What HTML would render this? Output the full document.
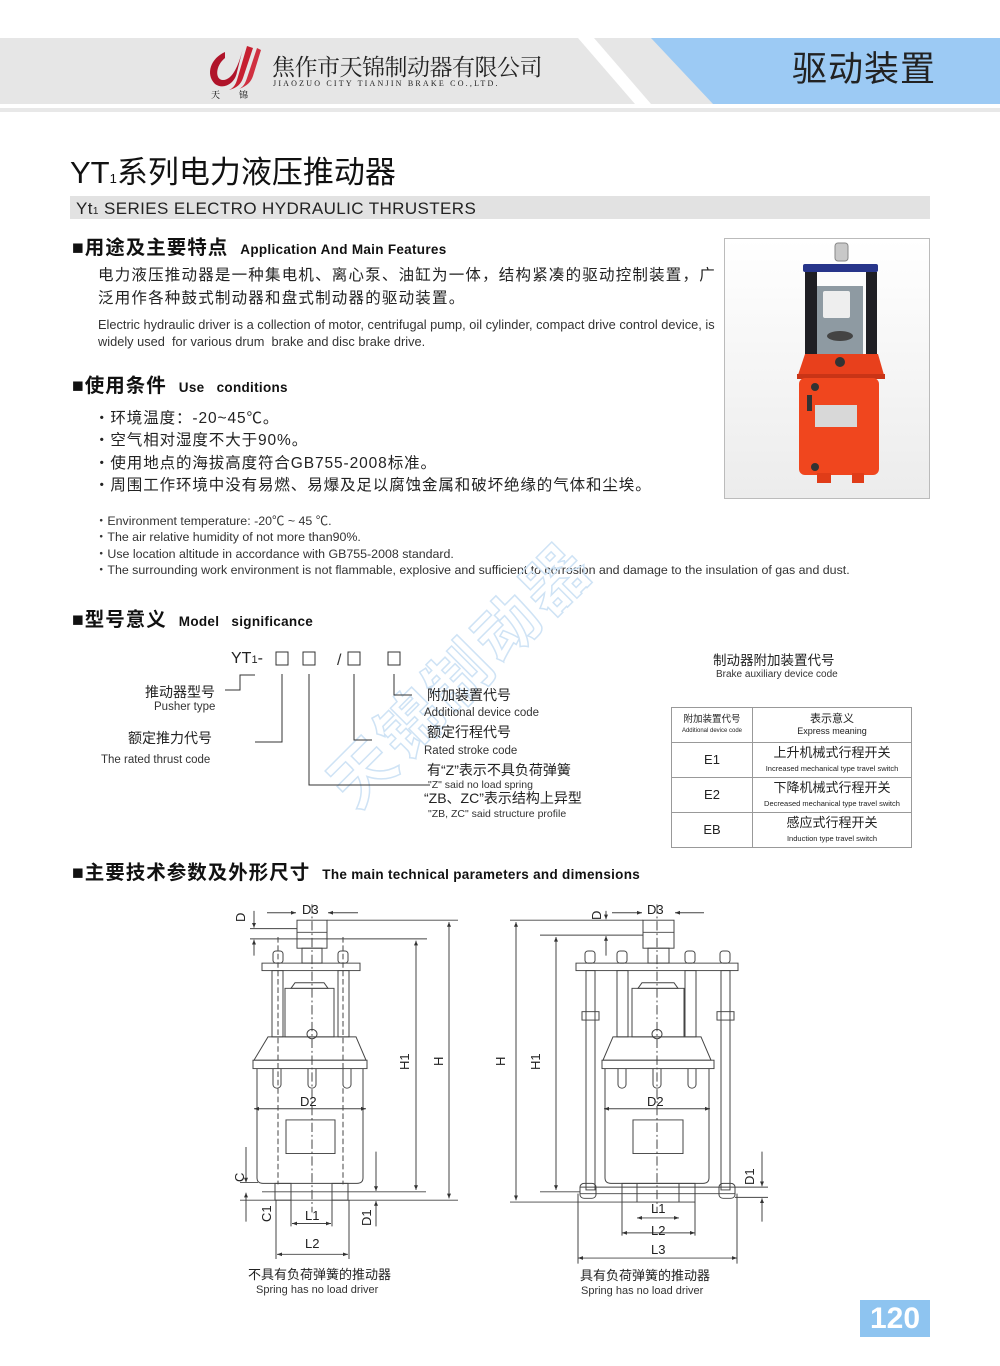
<!DOCTYPE html>
<html><head><meta charset="utf-8">
<style>
*{margin:0;padding:0;box-sizing:border-box}
body{width:1000px;height:1366px;position:relative;background:#fff;overflow:hidden;font-family:"Liberation Sans","Noto Sans CJK SC",sans-serif;color:#222}
.a{position:absolute;white-space:nowrap;line-height:1.15}
.h{font-size:19.5px;font-weight:bold;color:#111;letter-spacing:1px}
.h small{font-size:13.5px;font-weight:bold;margin-left:12px;letter-spacing:0.3px}
table{border-collapse:collapse}
td{border:1px solid #999;text-align:center;vertical-align:middle;line-height:1.1}
</style></head><body>

<!-- header -->
<div class="a" style="left:0;top:38px;width:1000px;height:66px;background:#e6e6e6"></div>
<svg class="a" style="left:0;top:30px" width="1000" height="90">
<polygon points="578,8 594,8 651,74 635,74" fill="#fff"/>
<polygon points="651,8 1000,8 1000,74 713,74" fill="#9ccaf4"/>
<rect x="0" y="78" width="1000" height="4" fill="#e8e8e8"/>
</svg>
<svg class="a" style="left:203px;top:44px" width="62" height="56">
<path d="M22 8 C8 14 2 30 12 40 C20 46 32 40 34 28 L40 4 C36 20 30 36 20 36 C12 36 12 22 22 14 Z" fill="#b0142a"/>
<path d="M44 2 L34 36 C32 42 30 44 26 46 C34 44 38 40 40 34 L50 4 Z" fill="#c62030"/>
<path d="M54 4 L44 34 C42 40 40 43 36 45 C44 42 48 38 50 32 L58 6 Z" fill="#d03040"/>
<text x="8" y="54" font-size="9" font-family="Noto Serif CJK SC,serif">天</text>
<text x="36" y="54" font-size="9" font-family="Noto Serif CJK SC,serif">锦</text>
</svg>
<div class="a" style="left:272px;top:54px;font-size:23px;line-height:24px;font-family:'Noto Serif CJK SC',serif;color:#222;letter-spacing:-0.5px">焦作市天锦制动器有限公司</div>
<div class="a" style="left:273px;top:79px;font-size:8px;line-height:9px;font-family:'Liberation Serif',serif;letter-spacing:2.2px;color:#222">JIAOZUO CITY TIANJIN BRAKE CO.,LTD.</div>
<div class="a" style="left:792px;top:50px;font-size:35px;color:#222;letter-spacing:1px">驱动装置</div>

<!-- title -->
<div class="a" style="left:70px;top:155px;font-size:31px;color:#111">YT<span style="font-size:13px">1</span>系列电力液压推动器</div>
<div class="a" style="left:70px;top:196px;width:860px;height:23px;background:#e2e2e2"></div>
<div class="a" style="left:76px;top:199px;font-size:17px;color:#222;letter-spacing:0.4px">Yt<span style="font-size:10px">1</span> SERIES ELECTRO HYDRAULIC THRUSTERS</div>

<!-- section 1 -->
<div class="a h" style="left:72px;top:237px">■用途及主要特点<small>Application And Main Features</small></div>
<div class="a" style="left:98px;top:267px;font-size:15.5px;letter-spacing:1.2px;color:#222">电力液压推动器是一种集电机、离心泵、油缸为一体，结构紧凑的驱动控制装置，广</div>
<div class="a" style="left:98px;top:290px;font-size:15.5px;letter-spacing:1.2px;color:#222">泛用作各种鼓式制动器和盘式制动器的驱动装置。</div>
<div class="a" style="left:98px;top:318px;font-size:12.8px;color:#333">Electric hydraulic driver is a collection of motor, centrifugal pump, oil cylinder, compact drive control device, is</div>
<div class="a" style="left:98px;top:335px;font-size:12.8px;color:#333">widely used&nbsp; for various drum&nbsp; brake and disc brake drive.</div>

<!-- photo -->
<div class="a" style="left:724px;top:238px;width:206px;height:261px;border:1px solid #bbb;background:linear-gradient(#fff,#ececec)"></div>
<svg class="a" style="left:724px;top:238px" width="206" height="261">
<g transform="translate(-724,-238)">
<rect x="835" y="243" width="13" height="18" rx="3" fill="#c8c8c8" stroke="#888"/>
<rect x="803" y="264" width="75" height="8" rx="2" fill="#27358a"/>
<rect x="805" y="272" width="12" height="82" fill="#1f1f24"/>
<rect x="866" y="272" width="11" height="82" fill="#1f1f24"/>
<rect x="817" y="286" width="46" height="68" fill="#8e9aa2"/>
<rect x="823" y="291" width="27" height="27" rx="2" fill="#eee"/>
<ellipse cx="840" cy="336" rx="13" ry="5" fill="#444"/>
<polygon points="805,354 878,354 884,375 798,375" fill="#e8401c"/>
<circle cx="840" cy="362" r="5" fill="#333"/>
<rect x="797" y="374" width="88" height="5" fill="#c93416"/>
<rect x="799" y="378" width="80" height="97" rx="6" fill="#f0461e"/>
<rect x="815" y="405" width="42" height="22" fill="#d8d8d8"/>
<circle cx="815" cy="387" r="4" fill="#333"/>
<circle cx="815" cy="467" r="4" fill="#333"/>
<rect x="807" y="395" width="5" height="16" fill="#333"/>
<rect x="817" y="473" width="14" height="10" fill="#e03c18"/>
<rect x="852" y="473" width="12" height="10" fill="#e03c18"/>
</g></svg>

<!-- section 2 -->
<div class="a h" style="left:72px;top:375px">■使用条件<small>Use&nbsp;&nbsp; conditions</small></div>
<div class="a" style="left:94px;top:408px;font-size:15.5px;letter-spacing:0.9px;line-height:22.3px;color:#222">・环境温度：-20~45℃。<br>・空气相对湿度不大于90%。<br>・使用地点的海拔高度符合GB755-2008标准。<br>・周围工作环境中没有易燃、易爆及足以腐蚀金属和破坏绝缘的气体和尘埃。</div>
<div class="a" style="left:95px;top:513px;font-size:12.4px;line-height:16.4px;color:#333">・Environment temperature: -20℃ ~ 45 ℃.<br>・The air relative humidity of not more than90%.<br>・Use location altitude in accordance with GB755-2008 standard.<br>・The surrounding work environment is not flammable, explosive and sufficient to corrosion and damage to the insulation of gas and dust.</div>

<!-- watermark -->
<div class="a" style="left:315px;top:770px;font-size:64px;font-weight:bold;color:transparent;-webkit-text-stroke:1.5px #cfe3f5;transform:rotate(-45deg);transform-origin:0 0;letter-spacing:4px">天锦制动器</div>

<!-- section 3 -->
<div class="a h" style="left:72px;top:609px">■型号意义<small>Model&nbsp;&nbsp; significance</small></div>
<div class="a" style="left:231px;top:650px;font-size:16px">YT<span style="font-size:11px">1</span>-</div>
<svg class="a" style="left:90px;top:640px" width="560" height="190">
<g fill="none" stroke="#333" stroke-width="1">
<rect x="186" y="12" width="12" height="13"/><rect x="213" y="12" width="12" height="13"/>
<rect x="258" y="12" width="12" height="13"/><rect x="298" y="12" width="12" height="13"/>
<polyline points="165,35 150,35 150,50 135,50"/>
<polyline points="192,34 192,102 165,102"/>
<polyline points="219,34 219,145 340,145"/>
<polyline points="264,34 264,100 282,100"/>
<polyline points="304,34 304,55 322,55"/>
</g>
<text x="247" y="25" font-size="16" fill="#333">/</text>
</svg>
<div class="a" style="left:145px;top:684px;font-size:14px">推动器型号</div>
<div class="a" style="left:154px;top:701px;font-size:11.5px;color:#333">Pusher type</div>
<div class="a" style="left:128px;top:730px;font-size:14px">额定推力代号</div>
<div class="a" style="left:101px;top:754px;font-size:11.5px;color:#333">The rated thrust code</div>
<div class="a" style="left:427px;top:687px;font-size:14px">附加装置代号</div>
<div class="a" style="left:424px;top:707px;font-size:11.5px;color:#333">Additional device code</div>
<div class="a" style="left:427px;top:724px;font-size:14px">额定行程代号</div>
<div class="a" style="left:424px;top:745px;font-size:11.5px;color:#333">Rated stroke code</div>
<div class="a" style="left:427px;top:762px;font-size:14px">有“Z”表示不具负荷弹簧</div>
<div class="a" style="left:428px;top:779px;font-size:10.5px;color:#333">"Z" said no load spring</div>
<div class="a" style="left:424px;top:790px;font-size:14px">“ZB、ZC”表示结构上异型</div>
<div class="a" style="left:428px;top:808px;font-size:10.5px;color:#333">"ZB, ZC" said structure profile</div>

<div class="a" style="left:713px;top:653px;font-size:13.5px">制动器附加装置代号</div>
<div class="a" style="left:716px;top:669px;font-size:10px;color:#333">Brake auxiliary device code</div>
<table class="a" style="left:671px;top:707px;width:241px">
<tr style="height:35px"><td style="width:81px;font-size:9.5px">附加装置代号<br><span style="font-size:6px">Additional device code</span></td><td style="font-size:11px">表示意义<br><span style="font-size:9px">Express meaning</span></td></tr>
<tr style="height:35px"><td style="font-size:13px">E1</td><td style="font-size:13px">上升机械式行程开关<br><span style="font-size:7.5px">Increased mechanical type travel switch</span></td></tr>
<tr style="height:35px"><td style="font-size:13px">E2</td><td style="font-size:13px">下降机械式行程开关<br><span style="font-size:7.5px">Decreased mechanical type travel switch</span></td></tr>
<tr style="height:35px"><td style="font-size:13px">EB</td><td style="font-size:13px">感应式行程开关<br><span style="font-size:7.5px">Induction type travel switch</span></td></tr>
</table>

<!-- section 4 -->
<div class="a h" style="left:72px;top:862px">■主要技术参数及外形尺寸<small>The main technical parameters and dimensions</small></div>

<svg class="a" style="left:0;top:0" width="1000" height="1366" font-family="Liberation Sans,sans-serif" font-size="13">
<defs><marker id="ar" viewBox="0 0 10 10" refX="10" refY="5" markerWidth="7" markerHeight="5" orient="auto-start-reverse"><path d="M0,1 L10,5 L0,9Z" fill="#333"/></marker></defs>
<g transform="translate(0,895) scale(1,0.9333) translate(0,-895)">
<g stroke="#444" stroke-width="1" fill="none">
<!-- LEFT -->
<rect x="297" y="922" width="30" height="30"/><line x1="297" y1="935" x2="327" y2="935"/>
<rect x="302" y="952" width="20" height="16"/>
<rect x="262" y="968" width="98" height="8"/>
<rect x="273" y="955" width="10" height="13" rx="3"/><rect x="338" y="955" width="10" height="13" rx="3"/>
<rect x="272" y="976" width="11" height="71"/><rect x="338" y="976" width="11" height="71"/>
<rect x="285" y="995" width="49" height="52"/><polygon points="291,995 328,995 324,989 295,989"/>
<polygon points="268,1047 356,1047 366,1072 254,1072"/>
<circle cx="312" cy="1044" r="5"/>
<rect x="253" y="1072" width="114" height="9"/>
<path d="M257 1081 V1198 Q257 1204 263 1204 H357 Q363 1204 363 1198 V1081"/>
<path d="M273 1081 V1098 a4 4 0 0 0 8 0 V1081 M308 1081 V1098 a4 4 0 0 0 8 0 V1081 M343 1081 V1098 a4 4 0 0 0 8 0 V1081"/>
<rect x="286" y="1136" width="49" height="36"/>
<rect x="275" y="1204" width="16" height="18"/><rect x="332" y="1204" width="16" height="18"/>
<line x1="312" y1="905" x2="312" y2="1235" stroke-dasharray="10,3,2,3"/>
<line x1="278" y1="940" x2="278" y2="1205" stroke-dasharray="6,3"/><line x1="343" y1="940" x2="343" y2="1205" stroke-dasharray="6,3"/>
<line x1="327" y1="922" x2="458" y2="922"/><line x1="250" y1="931" x2="297" y2="931"/><line x1="250" y1="942" x2="427" y2="942"/>
<line x1="262" y1="1213" x2="426" y2="1213"/><line x1="240" y1="1222" x2="458" y2="1222"/>
<line x1="449" y1="924" x2="449" y2="1220" marker-start="url(#ar)" marker-end="url(#ar)"/>
<line x1="416" y1="944" x2="416" y2="1211" marker-start="url(#ar)" marker-end="url(#ar)"/>
<line x1="254" y1="1124" x2="366" y2="1124" marker-start="url(#ar)" marker-end="url(#ar)"/>
<line x1="292" y1="1247" x2="331" y2="1247" marker-start="url(#ar)" marker-end="url(#ar)"/>
<line x1="277" y1="1280" x2="348" y2="1280" marker-start="url(#ar)" marker-end="url(#ar)"/>
<line x1="291" y1="1222" x2="291" y2="1250"/><line x1="332" y1="1222" x2="332" y2="1250"/>
<line x1="276" y1="1222" x2="276" y2="1285"/><line x1="349" y1="1222" x2="349" y2="1285"/>
<line x1="254" y1="912" x2="254" y2="930" marker-end="url(#ar)"/><line x1="254" y1="960" x2="254" y2="943" marker-end="url(#ar)"/>
<line x1="246" y1="1165" x2="246" y2="1203" marker-end="url(#ar)"/><line x1="246" y1="1245" x2="246" y2="1214" marker-end="url(#ar)"/>
<line x1="240" y1="1203" x2="258" y2="1203"/>
<line x1="376" y1="1170" x2="376" y2="1212" marker-end="url(#ar)"/><line x1="376" y1="1250" x2="376" y2="1223" marker-end="url(#ar)"/>
<line x1="267" y1="914" x2="296" y2="914" marker-end="url(#ar)"/><line x1="358" y1="914" x2="328" y2="914" marker-end="url(#ar)"/>
<!-- RIGHT -->
<rect x="643" y="922" width="31" height="30"/><line x1="643" y1="935" x2="674" y2="935"/>
<rect x="648" y="952" width="21" height="16"/>
<rect x="576" y="968" width="162" height="8"/>
<rect x="585" y="955" width="10" height="13" rx="3"/><rect x="617" y="955" width="10" height="13" rx="3"/><rect x="685" y="955" width="10" height="13" rx="3"/><rect x="720" y="955" width="10" height="13" rx="3"/>
<rect x="617" y="976" width="11" height="71"/><rect x="685" y="976" width="11" height="71"/>
<rect x="586" y="976" width="9" height="235"/><rect x="721" y="976" width="9" height="235"/>
<rect x="582" y="1020" width="17" height="9"/><rect x="717" y="1020" width="17" height="9"/>
<rect x="632" y="995" width="52" height="52"/><polygon points="638,995 678,995 674,989 642,989"/>
<polygon points="613,1047 701,1047 711,1072 603,1072"/>
<circle cx="657" cy="1044" r="5"/>
<rect x="602" y="1072" width="112" height="9"/>
<path d="M605 1081 V1198 Q605 1204 611 1204 H703 Q709 1204 709 1198 V1081"/>
<path d="M618 1081 V1098 a4 4 0 0 0 8 0 V1081 M653 1081 V1098 a4 4 0 0 0 8 0 V1081 M688 1081 V1098 a4 4 0 0 0 8 0 V1081"/>
<rect x="633" y="1136" width="50" height="36"/>
<rect x="622" y="1204" width="73" height="20"/><line x1="637" y1="1204" x2="637" y2="1224"/><line x1="679" y1="1204" x2="679" y2="1224"/>
<line x1="580" y1="1208" x2="735" y2="1208"/><line x1="580" y1="1215" x2="735" y2="1215"/>
<rect x="580" y="1204" width="16" height="16" rx="4"/><rect x="719" y="1204" width="16" height="16" rx="4"/>
<line x1="657" y1="905" x2="657" y2="1235" stroke-dasharray="10,3,2,3"/>
<line x1="510" y1="922" x2="643" y2="922"/><line x1="540" y1="938" x2="643" y2="938"/>
<line x1="540" y1="1213" x2="580" y2="1213"/><line x1="510" y1="1224" x2="622" y2="1224"/>
<line x1="516" y1="924" x2="516" y2="1222" marker-start="url(#ar)" marker-end="url(#ar)"/>
<line x1="556" y1="940" x2="556" y2="1211" marker-start="url(#ar)" marker-end="url(#ar)"/>
<line x1="604" y1="1124" x2="710" y2="1124" marker-start="url(#ar)" marker-end="url(#ar)"/>
<line x1="637" y1="1241" x2="679" y2="1241" marker-start="url(#ar)" marker-end="url(#ar)"/>
<line x1="622" y1="1257" x2="695" y2="1257" marker-start="url(#ar)" marker-end="url(#ar)"/>
<line x1="578" y1="1284" x2="737" y2="1284" marker-start="url(#ar)" marker-end="url(#ar)"/>
<line x1="622" y1="1224" x2="622" y2="1260"/><line x1="695" y1="1224" x2="695" y2="1260"/>
<line x1="578" y1="1215" x2="578" y2="1290"/><line x1="737" y1="1215" x2="737" y2="1290"/>
<line x1="735" y1="1208" x2="768" y2="1208"/><line x1="735" y1="1219" x2="768" y2="1219"/>
<line x1="762" y1="1170" x2="762" y2="1207" marker-end="url(#ar)"/><line x1="762" y1="1245" x2="762" y2="1220" marker-end="url(#ar)"/>
<line x1="606" y1="912" x2="606" y2="921" marker-end="url(#ar)"/><line x1="606" y1="960" x2="606" y2="939" marker-end="url(#ar)"/>
<line x1="612" y1="914" x2="642" y2="914" marker-end="url(#ar)"/><line x1="704" y1="914" x2="675" y2="914" marker-end="url(#ar)"/>
</g></g>
<g fill="#222" stroke="none">
<text x="302" y="914">D3</text><text x="300" y="1106">D2</text><text x="305" y="1220">L1</text><text x="305" y="1248">L2</text>
<text x="647" y="914">D3</text><text x="647" y="1106">D2</text><text x="651" y="1213">L1</text><text x="651" y="1235">L2</text><text x="651" y="1254">L3</text>
<text transform="translate(245,922) rotate(-90)">D</text>
<text transform="translate(409,1070) rotate(-90)">H1</text><text transform="translate(443,1066) rotate(-90)">H</text>
<text transform="translate(244,1182) rotate(-90)">C</text><text transform="translate(271,1222) rotate(-90)">C1</text>
<text transform="translate(371,1226) rotate(-90)">D1</text>
<text transform="translate(601,920) rotate(-90)">D</text>
<text transform="translate(505,1066) rotate(-90)">H</text><text transform="translate(540,1070) rotate(-90)">H1</text>
<text transform="translate(754,1185) rotate(-90)">D1</text>
</g>
</svg>
<div class="a" style="left:248px;top:1268px;font-size:13px">不具有负荷弹簧的推动器</div>
<div class="a" style="left:256px;top:1284px;font-size:11px;color:#333">Spring has no load driver</div>
<div class="a" style="left:580px;top:1269px;font-size:13px">具有负荷弹簧的推动器</div>
<div class="a" style="left:581px;top:1285px;font-size:11px;color:#333">Spring has no load driver</div>

<div class="a" style="left:860px;top:1300px;width:70px;height:37px;background:#8ec4f0;color:#fff;font-size:30px;font-weight:bold;text-align:center;line-height:37px">120</div>
</body></html>
